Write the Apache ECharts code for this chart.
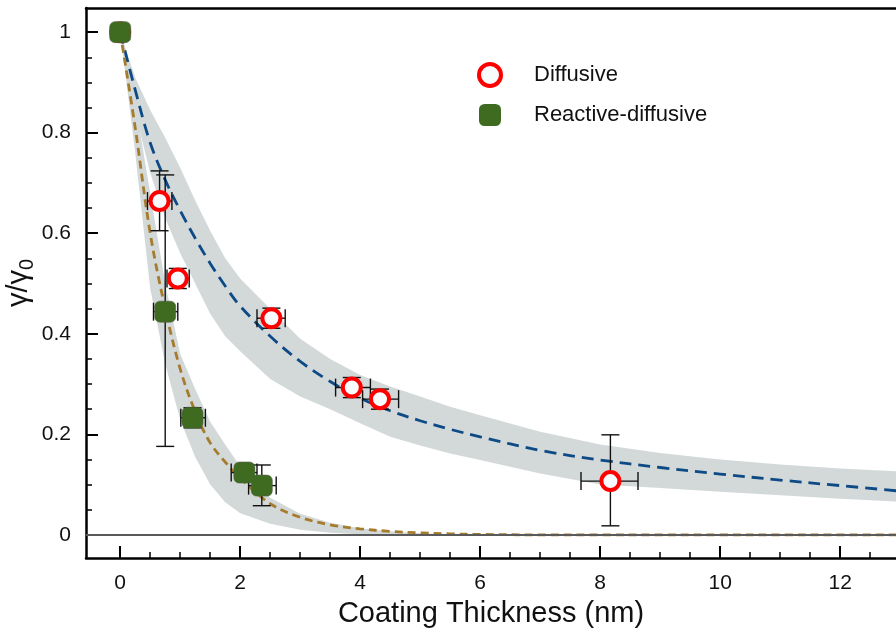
<!DOCTYPE html>
<html>
<head>
<meta charset="utf-8">
<script src="https://cdn.jsdelivr.net/npm/echarts/dist/echarts.min.js"></script>
<style>html,body{margin:0;padding:0;background:#fff;}#chart{width:896px;height:632px;}</style>
</head>
<body>
<div id="chart"></div>
<script>
// ---- data ----
const diffX    = [0, 0.656, 0.96, 2.52, 3.86, 4.33, 8.17];
const diffY    = [1.0, 0.664, 0.51, 0.431, 0.293, 0.270, 0.107];
const diffXLo  = [null, 0.455, 0.78, 2.28, 3.59, 4.04, 7.68];
const diffXHi  = [null, 0.862, 1.15, 2.75, 4.17, 4.64, 8.63];
const diffYLo  = [null, 0.605, 0.49, 0.411, 0.273, 0.25, 0.018];
const diffYHi  = [null, 0.724, 0.53, 0.451, 0.313, 0.29, 0.199];

const reactX   = [0, 0.75, 1.205, 2.07, 2.36];
const reactY   = [1.0, 0.444, 0.233, 0.124, 0.098];
const reactXLo = [null, 0.555, 1.01, 1.85, 2.14];
const reactXHi = [null, 0.96, 1.42, 2.28, 2.6];
const reactYLo = [null, 0.176, 0.213, 0.11, 0.058];
const reactYHi = [null, 0.716, 0.253, 0.138, 0.139];

const fitX     = [0, 0.25, 0.5, 0.75, 1, 1.25, 1.5, 1.75, 2, 2.5, 3, 3.5, 4, 4.5, 5, 5.5, 6, 7, 8, 9, 10, 11, 12, 13];
const diffFit  = [1, 0.885, 0.78, 0.706, 0.645, 0.59, 0.54, 0.495, 0.455, 0.395, 0.345, 0.305, 0.272, 0.247, 0.227, 0.21, 0.195, 0.168, 0.149, 0.134, 0.121, 0.109, 0.098, 0.087];
const diffUp   = [1, 0.91, 0.845, 0.79, 0.73, 0.665, 0.605, 0.55, 0.51, 0.45, 0.39, 0.35, 0.318, 0.295, 0.275, 0.255, 0.238, 0.205, 0.18, 0.163, 0.15, 0.14, 0.132, 0.126];
const diffLow  = [1, 0.84, 0.72, 0.63, 0.56, 0.5, 0.44, 0.395, 0.365, 0.31, 0.275, 0.25, 0.222, 0.195, 0.178, 0.162, 0.149, 0.122, 0.1, 0.093, 0.086, 0.079, 0.072, 0.066];
const reactFit = [1, 0.81, 0.6, 0.45, 0.33, 0.245, 0.183, 0.145, 0.113, 0.062, 0.035, 0.02, 0.012, 0.007, 0.004, 0.002, 0.001, 0, 0, 0, 0, 0, 0, 0];
const reactUp  = [1, 0.86, 0.68, 0.5, 0.36, 0.29, 0.225, 0.18, 0.136, 0.074, 0.042, 0.024, 0.013, 0.007, 0.003, 0.001, 0, 0, 0, 0, 0, 0, 0, 0];
const reactLow = [1, 0.76, 0.49, 0.34, 0.229, 0.155, 0.1, 0.065, 0.043, 0.022, 0.01, 0.004, 0.001, 0, 0, 0, 0, 0, 0, 0, 0, 0, 0, 0];

const xMajorTicks = [0, 2, 4, 6, 8, 10, 12];
const xMinorTicks = [0.5, 1, 1.5, 2.5, 3, 3.5, 4.5, 5, 5.5, 6.5, 7, 7.5, 8.5, 9, 9.5, 10.5, 11, 11.5, 12.5];
const yMajorTicks = [0, 0.2, 0.4, 0.6, 0.8, 1];
const yMinorTicks = [0.05, 0.1, 0.15, 0.25, 0.3, 0.35, 0.45, 0.5, 0.55, 0.65, 0.7, 0.75, 0.85, 0.9, 0.95];

const seriesNames = ['Diffusive', 'Reactive-diffusive'];
const xTitle = 'Coating Thickness (nm)';

// ---- styling ----
const FONT = '"Liberation Sans", Arial, Helvetica, sans-serif';
const xMin = -0.57, xMax = 12.93, yMin = -0.046, yMax = 1.048;
const bandColor = '#d3d9d9';

function bandSeries(up, low) {
  return {
    type: 'custom', coordinateSystem: 'cartesian2d', clip: true, silent: true, z: 1,
    data: [[fitX[0], up[0]]],
    renderItem: function (params, api) {
      const pts = [];
      for (let i = 0; i < fitX.length; i++) pts.push(api.coord([fitX[i], up[i]]));
      for (let i = fitX.length - 1; i >= 0; i--) pts.push(api.coord([fitX[i], low[i]]));
      return { type: 'polygon', shape: { points: pts }, style: { fill: bandColor, stroke: null } };
    }
  };
}

function errRows(xs, ys, xlo, xhi, ylo, yhi) {
  const rows = [];
  for (let i = 0; i < xs.length; i++) rows.push([xs[i], ys[i], xlo[i], xhi[i], ylo[i], yhi[i]]);
  return rows;
}

function errSeries(rows) {
  return {
    type: 'custom', coordinateSystem: 'cartesian2d', silent: true, z: 4,
    encode: { x: 0, y: 1 },
    data: rows,
    renderItem: function (params, api) {
      const x = api.value(0), y = api.value(1);
      const xlo = api.value(2), xhi = api.value(3), ylo = api.value(4), yhi = api.value(5);
      const children = [];
      const st = { stroke: '#111', lineWidth: 1.4 };
      const cap = 9;
      if (!isNaN(ylo) && ylo !== null && !isNaN(yhi)) {
        const a = api.coord([x, ylo]), b = api.coord([x, yhi]);
        children.push({ type: 'line', shape: { x1: a[0], y1: a[1], x2: b[0], y2: b[1] }, style: st });
        children.push({ type: 'line', shape: { x1: a[0] - cap, y1: a[1], x2: a[0] + cap, y2: a[1] }, style: st });
        children.push({ type: 'line', shape: { x1: b[0] - cap, y1: b[1], x2: b[0] + cap, y2: b[1] }, style: st });
      }
      if (!isNaN(xlo) && xlo !== null && !isNaN(xhi)) {
        const a = api.coord([xlo, y]), b = api.coord([xhi, y]);
        children.push({ type: 'line', shape: { x1: a[0], y1: a[1], x2: b[0], y2: b[1] }, style: st });
        children.push({ type: 'line', shape: { x1: a[0], y1: a[1] - cap, x2: a[0], y2: a[1] + cap }, style: st });
        children.push({ type: 'line', shape: { x1: b[0], y1: b[1] - cap, x2: b[0], y2: b[1] + cap }, style: st });
      }
      return { type: 'group', children: children };
    }
  };
}

function zip(xs, ys) { return xs.map((x, i) => [x, ys[i]]); }

const axisLine = { show: true, onZero: false, lineStyle: { color: '#000', width: 2.5 } };

const option = {
  animation: false,
  backgroundColor: '#fff',
  textStyle: { fontFamily: FONT },
  grid: { left: 86, right: 0, top: 8, bottom: 74, containLabel: false, outerBoundsMode: 'none' },
  legend: {
    orient: 'vertical', left: 477, top: 62, padding: 0, itemWidth: 22, itemHeight: 22, itemGap: 16,
    data: [
      { name: seriesNames[0], itemStyle: { color: '#f7fbfd', borderColor: '#ff0000', borderWidth: 4 } },
      { name: seriesNames[1], itemStyle: { color: '#3e6b20', borderWidth: 0 } }
    ],
    textStyle: { fontFamily: FONT, fontSize: 22, color: '#111', padding: [0, 0, 0, 28] }
  },
  xAxis: [
    {
      type: 'value', min: xMin, max: xMax, position: 'bottom',
      axisLine: axisLine,
      axisTick: { show: true, inside: true, length: 12, lineStyle: { color: '#000', width: 2 }, customValues: xMajorTicks },
      axisLabel: { fontFamily: FONT, fontSize: 21, color: '#111', margin: 15, customValues: xMajorTicks },
      splitLine: { show: false },
      name: xTitle, nameLocation: 'middle', nameGap: 41, nameMoveOverlap: false,
      nameTextStyle: { fontFamily: FONT, fontSize: 29, color: '#111' }
    },
    {
      type: 'value', min: xMin, max: xMax, position: 'top',
      axisLine: axisLine, axisTick: { show: false }, axisLabel: { show: false }, splitLine: { show: false }
    },
    {
      type: 'value', min: xMin, max: xMax, position: 'bottom',
      axisLine: { show: false, onZero: false },
      axisTick: { show: true, inside: true, length: 6, lineStyle: { color: '#000', width: 1.5 }, customValues: xMinorTicks },
      axisLabel: { show: false }, splitLine: { show: false }
    }
  ],
  yAxis: [
    {
      type: 'value', min: yMin, max: yMax, position: 'left',
      axisLine: axisLine,
      axisTick: { show: true, inside: true, length: 12, lineStyle: { color: '#000', width: 2 }, customValues: yMajorTicks },
      axisLabel: { fontFamily: FONT, fontSize: 21, color: '#111', margin: 15, customValues: yMajorTicks },
      splitLine: { show: false },
      name: '{g|γ/γ}{s|0}', nameLocation: 'middle', nameGap: 49, nameRotate: 90, nameMoveOverlap: false,
      nameTextStyle: {
        fontFamily: FONT, color: '#111',
        rich: {
          g: { fontFamily: FONT, fontSize: 29, color: '#111' },
          s: { fontFamily: FONT, fontSize: 20, color: '#111', padding: [16, 0, 0, 0] }
        }
      }
    },
    {
      type: 'value', min: yMin, max: yMax, position: 'left',
      axisLine: { show: false, onZero: false },
      axisTick: { show: true, inside: true, length: 6, lineStyle: { color: '#000', width: 1.5 }, customValues: yMinorTicks },
      axisLabel: { show: false }, splitLine: { show: false }
    }
  ],
  series: [
    bandSeries(diffUp, diffLow),
    bandSeries(reactUp, reactLow),
    {
      type: 'line', name: '_zero', data: [], silent: true, z: 2,
      markLine: {
        silent: true, symbol: ['none', 'none'], label: { show: false },
        lineStyle: { color: '#5a5a5a', width: 2, type: 'solid' },
        data: [{ yAxis: 0 }]
      }
    },
    {
      type: 'line', name: '_diffFit', data: zip(fitX, diffFit), showSymbol: false, smooth: 0.35, z: 3, silent: true,
      lineStyle: { color: '#0d4a86', width: 2.8, type: [12, 7] }
    },
    {
      type: 'line', name: '_reactFit', data: zip(fitX, reactFit), showSymbol: false, smooth: 0.35, z: 3, silent: true,
      lineStyle: { color: '#a57b2d', width: 2.8, type: [8, 5] }
    },
    errSeries(errRows(diffX, diffY, diffXLo, diffXHi, diffYLo, diffYHi)),
    errSeries(errRows(reactX, reactY, reactXLo, reactXHi, reactYLo, reactYHi)),
    {
      type: 'scatter', name: seriesNames[0], data: zip(diffX, diffY), z: 5,
      symbol: 'circle', symbolSize: 18,
      itemStyle: { color: '#f7fbfd', borderColor: '#ff0000', borderWidth: 4, opacity: 1 }
    },
    {
      type: 'scatter', name: seriesNames[1], data: zip(reactX, reactY), z: 6,
      symbol: 'roundRect', symbolSize: 21,
      itemStyle: { color: '#3e6b20', borderColor: '#4f5f45', borderWidth: 0.6, opacity: 1 }
    }
  ]
};

const chart = echarts.init(document.getElementById('chart'), null, { renderer: 'canvas' });
chart.setOption(option);
</script>
</body>
</html>
